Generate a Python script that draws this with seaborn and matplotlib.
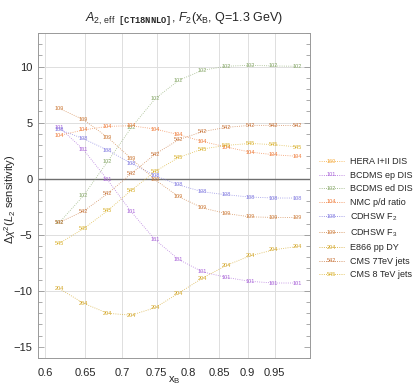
import numpy as np
import pandas as pd
import matplotlib.pyplot as plt
import seaborn as sns
from matplotlib.lines import Line2D
from matplotlib.text import Text
from matplotlib.legend_handler import HandlerBase
from matplotlib.ticker import FixedLocator, FixedFormatter, NullLocator, MultipleLocator

# x_B sampling points (log-spaced)
x_b = [0.618, 0.648, 0.68, 0.713, 0.748, 0.784, 0.822, 0.862, 0.904, 0.948, 0.994]

# experiment ids, names and colours
exp_ids = ["160", "101", "102", "104", "108", "109", "204", "542", "545"]
exp_names = ["HERA I+II DIS", "BCDMS ep DIS", "BCDMS ed DIS", "NMC p/d ratio",
             r"CDHSW F$_2$", r"CDHSW F$_3$", "E866 pp DY", "CMS 7TeV jets", "CMS 8 TeV jets"]
exp_colors = ["#f5aa3c", "#a862d8", "#88a86a", "#f07c3a", "#7f78e0",
              "#cc7a38", "#d2a422", "#c8743a", "#d9b02a"]

# delta chi^2 values (HERA not visible on the plot)
dchi2_101 = [4.55, 2.6, -0.1, -2.95, -5.45, -7.2, -8.3, -8.8, -9.15, -9.3, -9.3]
dchi2_102 = [-3.87, -1.52, 1.52, 4.55, 7.14, 8.78, 9.67, 10.03, 10.12, 10.06, 10.03]
dchi2_104 = [3.87, 4.35, 4.67, 4.73, 4.43, 3.93, 3.33, 2.83, 2.38, 2.14, 2.0]
dchi2_108 = [4.37, 3.57, 2.55, 1.37, 0.27, -0.55, -1.16, -1.43, -1.63, -1.72, -1.72]
dchi2_109 = [6.25, 5.27, 3.7, 1.8, -0.1, -1.6, -2.6, -3.1, -3.4, -3.45, -3.45]
dchi2_204 = [-9.82, -11.1, -12.0, -12.17, -11.5, -10.2, -8.87, -7.74, -6.88, -6.34, -6.04]
dchi2_542 = [-3.87, -2.9, -1.34, 0.45, 2.2, 3.48, 4.2, 4.58, 4.76, 4.76, 4.73]
dchi2_545 = [-5.74, -4.46, -2.86, -1.04, 0.65, 1.9, 2.65, 2.97, 3.15, 3.04, 2.83]

series = {"101": dchi2_101, "102": dchi2_102, "104": dchi2_104, "108": dchi2_108,
          "109": dchi2_109, "204": dchi2_204, "542": dchi2_542, "545": dchi2_545}

xticks = [0.6, 0.65, 0.7, 0.75, 0.8, 0.85, 0.9, 0.95]
yticks = [-15, -10, -5, 0, 5, 10]

sns.set_theme(style="white")
plt.rcParams['font.family'] = ['Liberation Sans', 'DejaVu Sans']
plt.rcParams['mathtext.fontset'] = 'custom'
plt.rcParams['mathtext.rm'] = 'Liberation Sans'
plt.rcParams['mathtext.it'] = 'Liberation Sans:italic'
plt.rcParams['mathtext.tt'] = 'Liberation Mono:bold'

# long form table for seaborn
rows = []
for eid, vals in series.items():
    for x, v in zip(x_b, vals):
        rows.append((eid, x, v))
df = pd.DataFrame(rows, columns=["id", "x", "dchi2"])
palette = dict(zip(exp_ids, exp_colors))

fig = plt.figure(figsize=(4.17, 3.88), dpi=100)
ax = fig.add_axes([0.091, 0.077, 0.652, 0.838])

# grid + zero line
for xt in xticks:
    ax.axvline(xt, color="#dedede", lw=0.7, zorder=0)
for yt in [-10, -5, 5, 10]:
    ax.axhline(yt, color="#dedede", lw=0.7, zorder=0)
ax.axhline(0, color="#6e6e6e", lw=1.0, zorder=1)

sns.lineplot(data=df, x="x", y="dchi2", hue="id", palette=palette, estimator=None,
             sort=True, linestyle=":", lw=0.6, alpha=0.8, legend=False, ax=ax)

for _, r in df.iterrows():
    ax.text(r["x"], r["dchi2"], r["id"], color=palette[r["id"]], fontsize=4,
            ha="center", va="center", zorder=5)

ax.set_xscale("log")
ax.set_xlim(0.5917, 1.019)
ax.set_ylim(-16, 13)
ax.xaxis.set_major_locator(FixedLocator(xticks))
ax.xaxis.set_major_formatter(FixedFormatter([f"{t:g}" for t in xticks]))
ax.xaxis.set_minor_locator(NullLocator())
ax.yaxis.set_major_locator(FixedLocator(yticks))
ax.yaxis.set_major_formatter(FixedFormatter(["\u221215", "\u221210", "\u22125", "0", "5", "10"]))
ax.yaxis.set_minor_locator(MultipleLocator(1))
ax.tick_params(axis="y", which="both", direction="in", left=True, right=True,
               length=3, width=0.5, color="#888888", labelsize=8, pad=4)
ax.tick_params(axis="y", which="major", length=4.5)
ax.tick_params(axis="x", which="both", bottom=False, top=False, labelsize=8, pad=1)
for s in ax.spines.values():
    s.set_color("#999999")
    s.set_linewidth(0.7)

ax.set_xlabel(r"x$_\mathrm{B}$", fontsize=8)
ax.xaxis.set_label_coords(0.5, -0.05)
ax.set_ylabel(r"$\Delta\chi^2$($L_2$ sensitivity)", fontsize=8)
ax.yaxis.set_label_coords(-0.075, 0.49)
ax.set_title(r"$A_{2,\,\mathrm{eff}\ \ \mathtt{[CT18NNLO]}}$, $F_2$(x$_\mathrm{B}$, Q=1.3 GeV)",
             fontsize=9, pad=9, x=0.537)


class NumHandler(HandlerBase):
    def create_artists(self, legend, orig_handle, xdescent, ydescent, width, height,
                       fontsize, trans):
        yc = height / 2 - ydescent
        line = Line2D([-xdescent, -xdescent + width], [yc, yc], ls=":", lw=0.6,
                      color=orig_handle.get_color(), transform=trans)
        txt = Text(-xdescent + width / 2, yc, orig_handle.get_gid(), fontsize=4,
                   color=orig_handle.get_color(), ha="center", va="center")
        txt.set_transform(trans)
        return [line, txt]


handles = [Line2D([], [], color=c, gid=i) for i, c in zip(exp_ids, exp_colors)]
ax.legend(handles, exp_names, handler_map={Line2D: NumHandler()}, frameon=False,
          loc="center left", bbox_to_anchor=(1.02, 0.43), fontsize=6.5,
          handlelength=2.8, labelspacing=0.5, handletextpad=0.7, borderaxespad=0)

fig.savefig("out.png", dpi=100)
